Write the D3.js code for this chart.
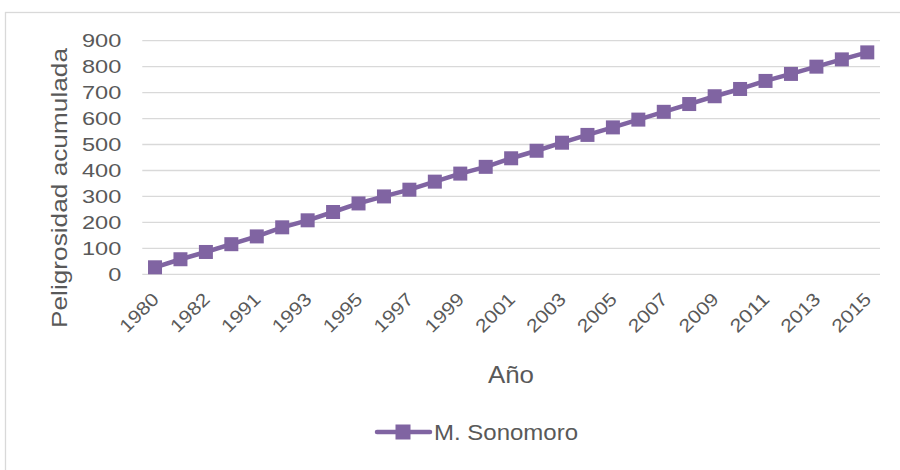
<!DOCTYPE html>
<html>
<head>
<meta charset="utf-8">
<script src="https://cdn.jsdelivr.net/npm/d3@7/dist/d3.min.js"></script>
<style>
  html, body { margin: 0; padding: 0; background: #ffffff; }
  svg { display: block; font-family: "Liberation Sans", Arial, sans-serif; }
</style>
</head>
<body>
<svg id="chart" width="900" height="470"></svg>
<script>
// Años con registro (categorías del eje X)
const years = ["1980","1981","1982","1990","1991","1992","1993","1994","1995","1996",
  "1997","1998","1999","2000","2001","2002","2003","2004","2005","2006",
  "2007","2008","2009","2010","2011","2012","2013","2014","2015"];
// Peligrosidad acumulada, serie M. Sonomoro
const sonomoro = [27, 58, 86, 116, 146, 181, 208, 240, 273, 300,
  326, 357, 388, 414, 447, 476, 507, 537, 566, 596,
  626, 656, 686, 714, 745, 772, 800, 828, 855];
const yTicks = [0, 100, 200, 300, 400, 500, 600, 700, 800, 900];
const seriesName = "M. Sonomoro";
const xTitle = "Año";
const yTitle = "Peligrosidad acumulada";

const svg = d3.select("#chart");
const color = "#8064a2";
const textColor = "#595959";
const gridColor = "#d9d9d9";
const fontFamily = "Liberation Sans, Arial, sans-serif";

// marco exterior
svg.append("rect")
  .attr("x", 5.5).attr("y", 12.5).attr("width", 900).attr("height", 470)
  .attr("fill", "none").attr("stroke", gridColor).attr("stroke-width", 1.3);

const plot = { left: 142.3, right: 880, top: 40.7, bottom: 274.3 };

const x = d3.scaleBand().domain(years).range([plot.left, plot.right]);
const y = d3.scaleLinear().domain([0, 900]).range([plot.bottom, plot.top]);

// líneas de cuadrícula horizontales
svg.append("g")
  .selectAll("line").data(yTicks).join("line")
  .attr("x1", plot.left).attr("x2", plot.right)
  .attr("y1", d => y(d)).attr("y2", d => y(d))
  .attr("stroke", gridColor).attr("stroke-width", 1.3);

// eje Y
const yAxis = svg.append("g")
  .attr("transform", `translate(${plot.left},0)`)
  .call(d3.axisLeft(y).tickValues(yTicks).tickSize(0).tickPadding(21));
yAxis.select(".domain").remove();
yAxis.selectAll("text")
  .attr("fill", textColor).attr("font-size", 19)
  .attr("font-family", fontFamily)
  .attr("textLength", d => String(d).length * 13.1)
  .attr("lengthAdjust", "spacingAndGlyphs");

// eje X: etiqueta en años alternos, rotadas -45°
const labelYears = years.filter((d, i) => i % 2 === 0);
const xAxis = svg.append("g")
  .attr("transform", `translate(0,${plot.bottom})`)
  .call(d3.axisBottom(x).tickValues(labelYears).tickSize(0).tickFormat(d => d));
xAxis.select(".domain").remove();
xAxis.selectAll("text")
  .attr("fill", textColor).attr("font-size", 18.5)
  .attr("font-family", fontFamily)
  .attr("text-anchor", "end")
  .attr("dy", 0)
  .attr("textLength", 47)
  .attr("lengthAdjust", "spacingAndGlyphs")
  .attr("transform", "translate(3,24) rotate(-45)");

// línea de la serie
const line = d3.line()
  .x((d, i) => x(years[i]) + x.bandwidth() / 2)
  .y(d => y(d));

svg.append("path")
  .datum(sonomoro)
  .attr("d", line)
  .attr("fill", "none")
  .attr("stroke", color)
  .attr("stroke-width", 4.5)
  .attr("stroke-linejoin", "round")
  .attr("stroke-linecap", "round");

const ms = 14;
svg.append("g")
  .selectAll("rect").data(sonomoro).join("rect")
  .attr("x", (d, i) => x(years[i]) + x.bandwidth() / 2 - ms / 2)
  .attr("y", d => y(d) - ms / 2)
  .attr("width", ms).attr("height", ms)
  .attr("fill", color);

// títulos de los ejes
svg.append("text")
  .attr("x", 511).attr("y", 383)
  .attr("text-anchor", "middle")
  .attr("fill", textColor).attr("font-size", 24)
  .attr("textLength", 46).attr("lengthAdjust", "spacingAndGlyphs")
  .text(xTitle);

svg.append("text")
  .attr("transform", `translate(67,${188}) rotate(-90)`)
  .attr("text-anchor", "middle")
  .attr("fill", textColor).attr("font-size", 22)
  .attr("textLength", 280).attr("lengthAdjust", "spacingAndGlyphs")
  .text(yTitle);

// leyenda
const lg = svg.append("g").attr("transform", "translate(0,432)");
lg.append("line")
  .attr("x1", 377).attr("x2", 430).attr("y1", 0).attr("y2", 0)
  .attr("stroke", color).attr("stroke-width", 4.5).attr("stroke-linecap", "round");
lg.append("rect")
  .attr("x", 403 - 7.5).attr("y", -7.5).attr("width", 15).attr("height", 15)
  .attr("fill", color);
lg.append("text")
  .attr("x", 434).attr("y", 0).attr("dy", "0.36em")
  .attr("fill", textColor).attr("font-size", 22.5)
  .attr("textLength", 144).attr("lengthAdjust", "spacingAndGlyphs")
  .text(seriesName);
</script>
</body>
</html>
